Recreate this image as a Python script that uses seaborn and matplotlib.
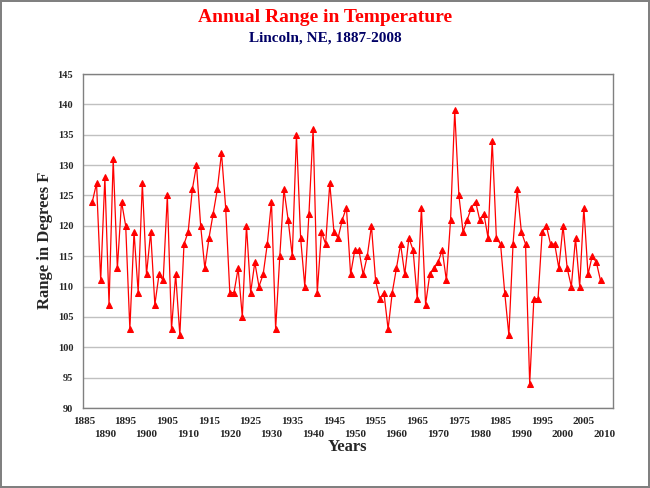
import matplotlib
matplotlib.use("Agg")
import matplotlib.pyplot as plt
from matplotlib.ticker import MultipleLocator
import numpy as np
import pandas as pd
import seaborn as sns

# annual range (max - min), degrees F
years = list(range(1887, 2010))
r1887 = [124, 127, 111]
r1890 = [128, 107, 131, 113, 124, 120, 103, 119, 109, 127]
r1900 = [112, 119, 107, 112, 111, 125, 103, 112, 102, 117]
r1910 = [119, 126, 130, 120, 113, 118, 122, 126, 132, 123]
r1920 = [109, 109, 113, 105, 120, 109, 114, 110, 112, 117]
r1930 = [124, 103, 115, 126, 121, 115, 135, 118, 110, 122]
r1940 = [136, 109, 119, 117, 127, 119, 118, 121, 123, 112]
r1950 = [116, 116, 112, 115, 120, 111, 108, 109, 103, 109]
r1960 = [113, 117, 112, 118, 116, 108, 123, 107, 112, 113]
r1970 = [114, 116, 111, 121, 139, 125, 119, 121, 123, 124]
r1980 = [121, 122, 118, 134, 118, 117, 109, 102, 117, 126]
r1990 = [119, 117, 94, 108, 108, 119, 120, 117, 117, 113]
r2000 = [120, 113, 110, 118, 110, 123, 112, 115, 114, 111]
ranges = (r1887 + r1890 + r1900 + r1910 + r1920 + r1930 + r1940
          + r1950 + r1960 + r1970 + r1980 + r1990 + r2000)

xticks = list(range(1885, 2011, 5))
yticks = list(range(90, 146, 5))

df = pd.DataFrame({'year': years, 'range': ranges})

sns.set_style("white")
plt.rcParams['font.family'] = ['Liberation Serif', 'DejaVu Serif']

fig = plt.figure(figsize=(6.5, 4.88), dpi=100)
fig.patch.set_edgecolor('#808080')
fig.patch.set_linewidth(1.5)
ax = fig.add_axes([83/650, 1-408/488, 530/650, 334/488])

sns.lineplot(data=df, x='year', y='range', ax=ax, color='#ff0000',
             linewidth=0.9, marker='^', markersize=4.5,
             markeredgecolor='#ff0000', markerfacecolor='#ff0000')

ax.set_xlim(1884.75, 2012)
ax.set_ylim(90, 145)
ax.set_xticks(xticks)
# alternate rows for the year labels
ax.set_xticklabels([str(y) if (y // 5) % 2 == 1 else '\n' + str(y) for y in xticks],
                   linespacing=1.5)
ax.xaxis.set_minor_locator(MultipleLocator(1))
ax.set_yticks(yticks)
ax.set_yticklabels([str(v) for v in yticks])

ax.tick_params(axis='x', which='both', direction='inout', length=5, width=0.6,
               color='#808080', labelsize=8, pad=4)
ax.tick_params(axis='y', which='both', length=0, labelsize=7.5, pad=7)
for lab in ax.get_xticklabels() + ax.get_yticklabels():
    lab.set_fontweight('bold')

ax.yaxis.grid(True, color='#c0c0c0', linewidth=1)
ax.set_axisbelow(True)
for s in ax.spines.values():
    s.set_color('#808080')
    s.set_linewidth(1)

ax.set_xlabel('')
ax.set_ylabel('')
fig.text(347/650, 1-447/488, 'Years', ha='center', va='center',
         fontsize=12, fontweight='bold')
fig.text(45/650, 1-240/488, 'Range in Degrees F', ha='center', va='center',
         rotation=90, fontsize=12, fontweight='bold')

fig.text(0.5, 1-18/488, 'Annual Range in Temperature', ha='center', va='center',
         fontsize=14, fontweight='bold', color='#ff0000')
fig.text(0.5, 1-38/488, 'Lincoln, NE, 1887-2008', ha='center', va='center',
         fontsize=11, fontweight='bold', color='#000066')

fig.savefig('out.png', dpi=100, edgecolor=fig.get_edgecolor())
